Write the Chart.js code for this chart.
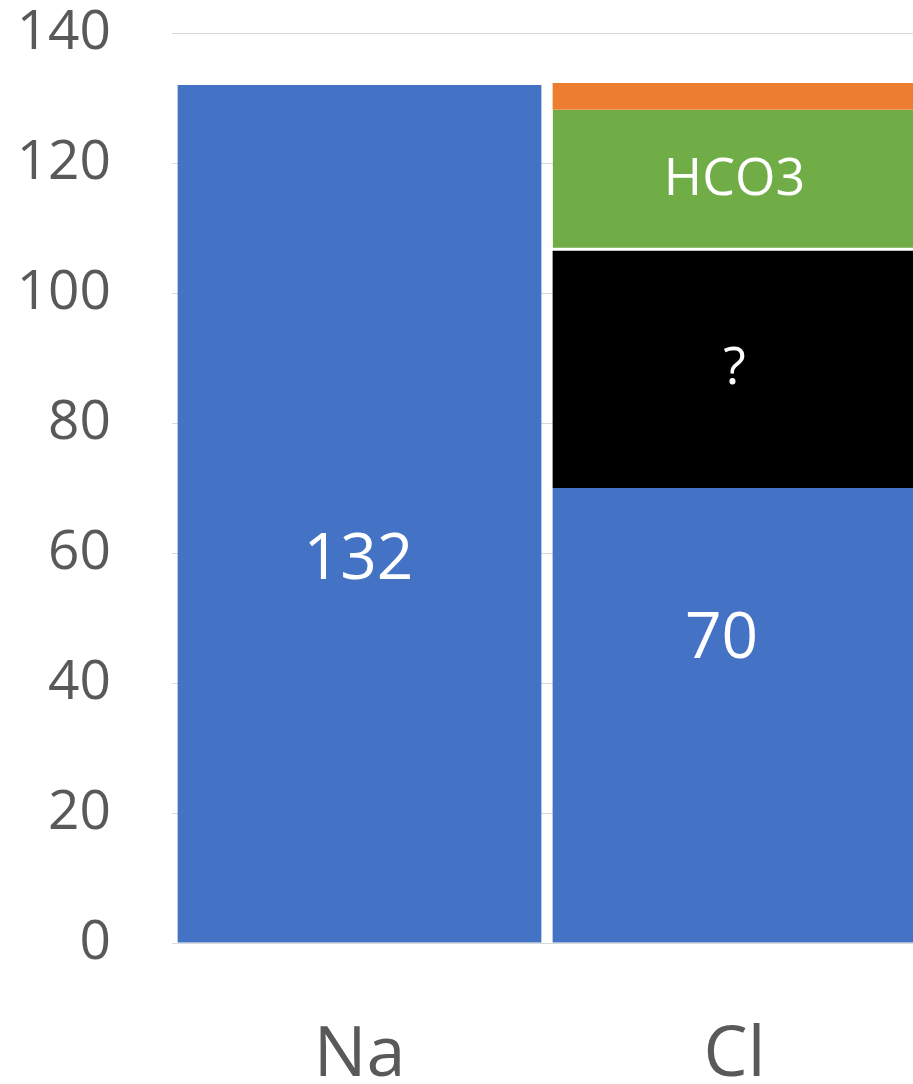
<!DOCTYPE html>
<html>
<head>
<meta charset="utf-8">
<script src="https://cdn.jsdelivr.net/npm/chart.js@4/dist/chart.umd.min.js"></script>
<style>
  html, body { margin: 0; padding: 0; background: #fff; overflow: hidden; }
  #wrap { width: 922px; height: 1084px; }
</style>
</head>
<body>
<div id="wrap"><canvas id="ionChart"></canvas></div>
<script>
// data
const categories = ['Na', 'Cl'];
const baseValues = [132, 70];
const gapValues = [null, 36.5];
const hco3Values = [null, 21.7];
const otherValues = [null, 4.1];
const baseLabels = ['132', '70'];
const gapLabels = [null, '?'];
const hco3Labels = [null, 'HCO3'];
const yTicks = [0, 20, 40, 60, 80, 100, 120, 140];

const FONT = "'Open Sans', 'Noto Sans', sans-serif";

// draws text labels inside bar segments
const segmentLabels = {
    id: 'segmentLabels',
    afterDatasetsDraw(chart) {
        const ctx = chart.ctx;
        chart.data.datasets.forEach((ds, i) => {
            if (!ds.segLabels) return;
            const meta = chart.getDatasetMeta(i);
            meta.data.forEach((bar, j) => {
                const text = ds.segLabels[j];
                if (!text) return;
                const off = (ds.segOffsets && ds.segOffsets[j]) || [0, 0];
                ctx.save();
                ctx.fillStyle = '#ffffff';
                ctx.font = ds.segFont;
                ctx.textAlign = 'center';
                ctx.textBaseline = 'middle';
                ctx.fillText(text, bar.x + off[0], (bar.y + bar.base) / 2 + off[1]);
                ctx.restore();
            });
        });
    }
};

const ctx = document.getElementById('ionChart').getContext('2d');
new Chart(ctx, {
    type: 'bar',
    data: {
        labels: categories,
        datasets: [
            {
                data: baseValues,
                backgroundColor: '#4472C4',
                segLabels: baseLabels,
                segOffsets: [[-1, 47], [-13, -75]],
                segFont: '64px ' + FONT
            },
            {
                data: gapValues,
                backgroundColor: '#000000',
                segLabels: gapLabels,
                segFont: '52px ' + FONT
            },
            {
                data: hco3Values,
                backgroundColor: '#70AD47',
                borderColor: '#ffffff',
                borderWidth: { top: 0, left: 0, right: 0, bottom: 3 },
                borderSkipped: false,
                segLabels: hco3Labels,
                segFont: '52px ' + FONT
            },
            {
                data: otherValues,
                backgroundColor: '#ED7D31'
            }
        ]
    },
    options: {
        responsive: true,
        maintainAspectRatio: false,
        animation: false,
        datasets: { bar: { barPercentage: 0.97, categoryPercentage: 1 } },
        plugins: { legend: { display: false }, tooltip: { enabled: false } },
        layout: { padding: 0 },
        scales: {
            x: {
                stacked: true,
                grid: { display: false },
                border: { display: false },
                ticks: {
                    color: '#595959',
                    font: { family: FONT, size: 70 },
                    padding: 63
                },
                afterFit(axis) { axis.height = 141; }
            },
            y: {
                stacked: true,
                min: 0,
                max: 140,
                afterBuildTicks(axis) { axis.ticks = yTicks.map(v => ({ value: v })); },
                grid: {
                    color: '#D9D9D9',
                    lineWidth: 1,
                    drawTicks: true,
                    tickLength: 61,
                    tickColor: 'rgba(0,0,0,0)'
                },
                border: { display: false },
                ticks: {
                    color: '#595959',
                    font: { family: FONT, size: 55 },
                    padding: 0
                },
                afterFit(axis) { axis.width = 172; }
            }
        }
    },
    plugins: [segmentLabels]
});
</script>
</body>
</html>
